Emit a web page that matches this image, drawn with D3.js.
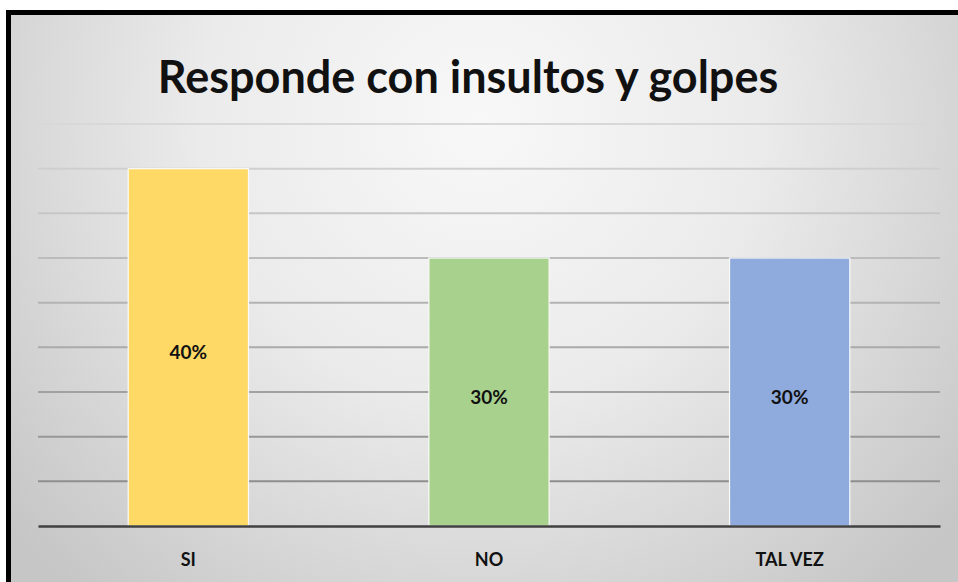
<!DOCTYPE html>
<meta charset="utf-8">
<style>
body { margin: 0; background: #fff; }
svg { display: block; }
text { font-family: Lato, "Open Sans", sans-serif; font-weight: bold; fill: #111; }
</style>
<body>
<script src="https://d3js.org/d3.v7.min.js"></script>
<script>

// data
var categories = ["SI", "NO", "TAL VEZ"];
var values = [0.40, 0.30, 0.30];
var gridTicks = [0.05, 0.10, 0.15, 0.20, 0.25, 0.30, 0.35, 0.40, 0.45];
var title = "Responde con insultos y golpes";

var barColors = ["#ffd966", "#a9d18e", "#8faadc"];

var W = 958, H = 582;
var plot = {left: 38, right: 940, top: 124, bottom: 526};

var svg = d3.select("body").append("svg")
    .attr("width", W)
    .attr("height", H);

// background gradient like the office chart
var defs = svg.append("defs");
var grad = defs.append("radialGradient")
    .attr("id", "bg")
    .attr("gradientUnits", "userSpaceOnUse")
    .attr("cx", 480).attr("cy", 120).attr("r", 620);
grad.append("stop").attr("offset", "0%").attr("stop-color", "#f8f8f8");
grad.append("stop").attr("offset", "45%").attr("stop-color", "#ebebeb");
grad.append("stop").attr("offset", "100%").attr("stop-color", "#c6c6c6");

svg.append("rect")
    .attr("x", 8.5).attr("y", 12.5)
    .attr("width", W).attr("height", H)
    .attr("fill", "url(#bg)")
    .attr("stroke", "#000")
    .attr("stroke-width", 5);

// scales
var x = d3.scaleBand()
    .domain(categories)
    .range([plot.left, plot.right])
    .paddingInner(0.6)
    .paddingOuter(0.3);

var y = d3.scaleLinear()
    .domain([0, 0.45])
    .range([plot.bottom, plot.top]);

// gridlines get darker towards the bottom
var gridColor = d3.scaleLinear()
    .domain([plot.top, plot.bottom])
    .range(["#d8d8d8", "#858585"])
    .interpolate(d3.interpolateRgb);

svg.append("g")
  .selectAll("line")
  .data(gridTicks)
  .join("line")
    .attr("x1", plot.left)
    .attr("x2", plot.right)
    .attr("y1", function(d) { return y(d); })
    .attr("y2", function(d) { return y(d); })
    .attr("stroke", function(d) { return gridColor(y(d)); })
    .attr("stroke-width", 2);

// bars
svg.append("g")
  .selectAll("rect")
  .data(values)
  .join("rect")
    .attr("x", function(d, i) { return x(categories[i]); })
    .attr("y", function(d) { return y(d); })
    .attr("width", x.bandwidth())
    .attr("height", function(d) { return y(0) - y(d); })
    .attr("fill", function(d, i) { return barColors[i]; })
    .attr("stroke", "#fafafa")
    .attr("stroke-width", 1.2);

// value labels in the middle of each bar
svg.append("g")
  .selectAll("text")
  .data(values)
  .join("text")
    .attr("x", function(d, i) { return x(categories[i]) + x.bandwidth() / 2; })
    .attr("y", function(d) { return (y(d) + y(0)) / 2 + 5; })
    .attr("dy", "0.35em")
    .attr("text-anchor", "middle")
    .attr("font-size", 19)
    .text(d3.format(".0%"));

// baseline / category axis
var xAxis = svg.append("g")
    .attr("transform", "translate(0," + plot.bottom + ")")
    .call(d3.axisBottom(x).tickSize(0).tickPadding(27));
xAxis.select(".domain")
    .attr("stroke", "#404040")
    .attr("stroke-width", 2.5);
xAxis.selectAll("text")
    .attr("font-size", 18)
    .style("font-family", "Lato, 'Open Sans', sans-serif")
    .style("font-weight", "bold")
    .attr("fill", "#111");

// title
svg.append("text")
    .attr("x", 468)
    .attr("y", 93)
    .attr("text-anchor", "middle")
    .attr("font-size", 45)
    .text(title);

</script>
</body>
